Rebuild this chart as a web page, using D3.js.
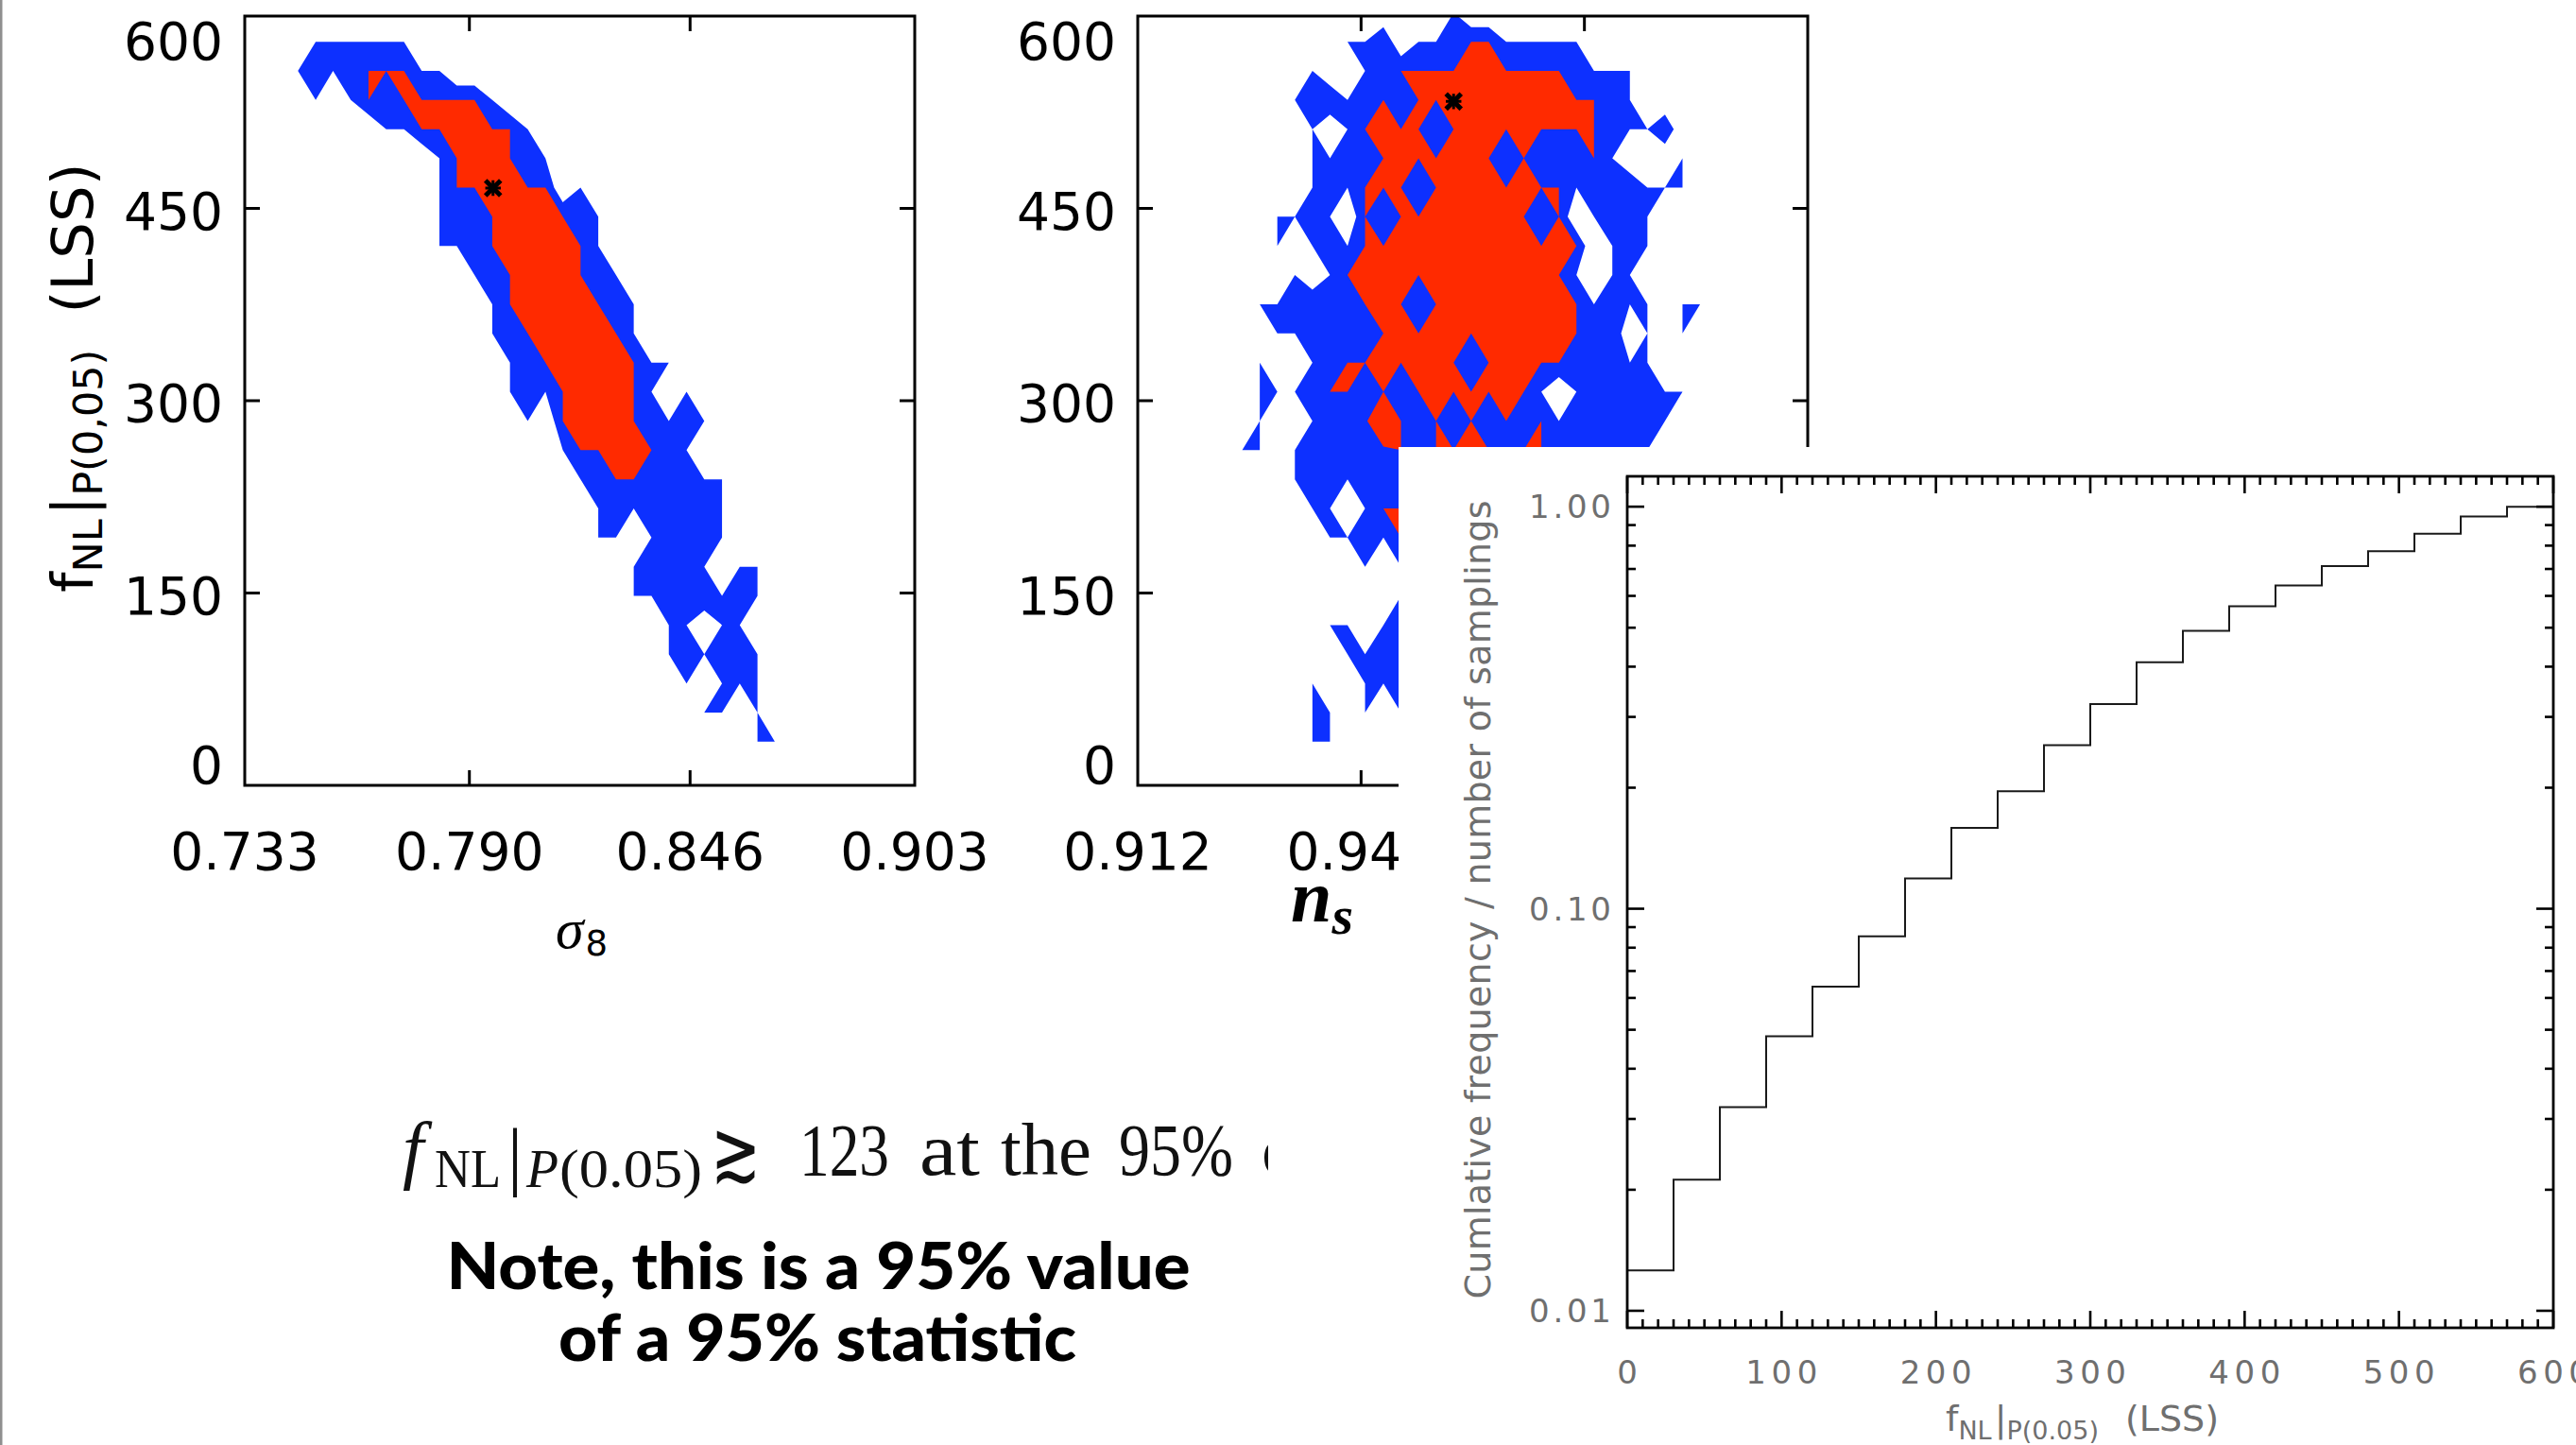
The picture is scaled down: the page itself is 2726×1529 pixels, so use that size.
<!DOCTYPE html>
<html>
<head>
<meta charset="utf-8">
<script src="https://cdn.jsdelivr.net/npm/d3@7"></script>
<style>
html,body{margin:0;padding:0;background:#fff;}
svg{display:block;}
</style>
</head>
<body>
<svg id="chart" width="2726" height="1529" xmlns="http://www.w3.org/2000/svg"></svg>
<script>
// ================= DATA =================
const sigma8TickValues = [0.733, 0.790, 0.846, 0.903];
const nsTickValues = [0.912, 0.940, 0.968, 0.996];
const fnlTickValues = [0, 150, 300, 450, 600];

// grid node positions of the 2-D histograms
const sigma8Nodes = [0.7465,0.7510,0.7554,0.7599,0.7644,0.7689,0.7734,0.7779,0.7824,0.7868,0.7913,0.7958,0.8003,0.8048,
                     0.8093,0.8137,0.8182,0.8227,0.8272,0.8317,0.8362,0.8406,0.8451,0.8496,0.8541,0.8586,0.8631,0.8675];
const nsNodes = [0.9251,0.9273,0.9295,0.9317,0.9339,0.9361,0.9383,0.9405,0.9428,0.9450,0.9472,0.9494,0.9516,0.9538,
                 0.9560,0.9582,0.9604,0.9626,0.9648,0.9670,0.9692,0.9715,0.9737,0.9759,0.9781,0.9803,0.9825,0.9847];
const fnlNodes = [602.7,580.0,557.2,534.5,511.7,489.0,466.2,443.5,420.7,398.0,375.2,352.5,329.7,307.0,
                  284.2,261.5,238.7,216.0,193.3,170.5,147.8,125.0,102.3,79.5,56.8,34.0,11.3];

// confidence level per node: 0 = outside, 1 = inside 95%, >=2 = inside 68%
const sigma8Levels = [
"0000000000000000000000000000",
"0111111000000000000000000000",
"1111222110000000000000000000",
"0101212222210000000000000000",
"0000011222222100000000000000",
"0000000012222110000000000000",
"0000000012222220100000000000",
"0000000011122222110000000000",
"0000000011122222210000000000",
"0000000000112222211000000000",
"0000000000012222221100000000",
"0000000000011222222100000000",
"0000000000001122222211000000",
"0000000000001112222210100000",
"0000000000000102222211110000",
"0000000000000001222221100000",
"0000000000000000112211111000",
"0000000000000000011111111000",
"0000000000000000011011111000",
"0000000000000000000111110110",
"0000000000000000000111121110",
"0000000000000000000001101100",
"0000000000000000000001111110",
"0000000000000000000000101110",
"0000000000000000000000011010",
"0000000000000000000000000011",
"0000000000000000000000000000"];

const nsLevels = [
"0000000000001000000000000000",
"0000001120111221111100000000",
"0000100112222222222111100000",
"0001121121222222222221100000",
"0000101222212222222221112000",
"0000111122222221211121000100",
"0000111222122222222111211100",
"0011110212222222212011110000",
"0010111222222222222201110000",
"0001012222222222222101100000",
"0111211222122222222211110110",
"0011111122222222222212010100",
"0100112222222122222111110000",
"0111122121222222210111111100",
"0100111192121212121111111000",
"1101111112122221221111110000",
"0001111111111111111111110000",
"0000110122111111111111000000",
"0000011112111111111110000000",
"0000000101111111111110000000",
"0000000001111111111110000000",
"0000011011111111111100000000",
"0000001111111111111000000000",
"0000100111111111110000000000",
"0000110101111111100000000000",
"0000110001111100000000000000"];

const sigma8Best = [0.7960, 465.8];
const nsBest = [0.9516, 533.4];

const contourLevels = [1, 2];

// cumulative distribution (inset)
const cumBinEdges = [0,30,60,90,120,150,180,210,240,270,300,330,360,390,420,450,480,510,540,570,600];
const cumFraction = [0.0126,0.0212,0.0321,0.0482,0.0640,0.0854,0.119,0.159,0.196,0.255,
                     0.323,0.410,0.491,0.565,0.637,0.712,0.775,0.856,0.946,1.000];
const cumXTicks = [0,100,200,300,400,500,600];
const cumYTicks = [0.01, 0.10, 1.00];
const cumYTickLabels = ["0.01","0.10","1.00"];

// ================= DRAWING =================
const svg = d3.select('#chart');
const SANS = "'DejaVu Sans', 'Liberation Sans', sans-serif";
const SERIF = "'Liberation Serif', 'DejaVu Serif', serif";
const BOLD = "Lato, 'Open Sans', 'DejaVu Sans', sans-serif";
const BLUE = '#0d30ff', RED = '#ff2a00';
const contourColors = [BLUE, RED];

svg.append('rect').attr('width', 2726).attr('height', 1529).attr('fill', '#fff');
svg.append('rect').attr('x', 0).attr('y', 0).attr('width', 2.5).attr('height', 1529).attr('fill', '#8f8f8f');

// calibrate the d3.contours coordinate convention (node index -> contour coordinate)
const calib = d3.contours().size([3, 3]).thresholds([0.5])([0,0,0,0,1,0,0,0,0]);
const calibOff = d3.min(calib[0].coordinates[0][0], p => p[0]) - 0.5;

const defs = svg.append('defs');

function contourPanel(cfg) {
  const {xScale, yScale, levels, xNodes, yNodes, best, xTicks, id} = cfg;
  const [L, R] = xScale.range();
  const B = yScale.range()[0], T = yScale.range()[1];
  defs.append('clipPath').attr('id', id).append('rect')
    .attr('x', L).attr('y', T).attr('width', R - L).attr('height', B - T);

  const nr = levels.length, nc = levels[0].length;
  const pw = nc + 2, ph = nr + 2;
  const vals = new Array(pw * ph).fill(0);
  levels.forEach((row, r) => { for (let c = 0; c < nc; c++) vals[(r + 1) * pw + c + 1] = +row[c]; });
  const idxX = d3.scaleLinear().domain(d3.range(nc)).range(xNodes);
  const idxY = d3.scaleLinear().domain(d3.range(nr)).range(yNodes.slice(0, nr));
  const proj = d3.geoTransform({
    point(px, py) { this.stream.point(xScale(idxX(px - calibOff - 1)), yScale(idxY(py - calibOff - 1))); }
  });
  const path = d3.geoPath(proj);
  const cs = d3.contours().size([pw, ph]).thresholds(contourLevels)(vals);

  const g = svg.append('g');
  g.append('g').attr('clip-path', `url(#${id})`)
    .selectAll('path').data(cs).join('path')
    .attr('d', path).attr('fill', (d, i) => contourColors[i]);

  // best-fit star (asterisk)
  const sx = xScale(best[0]), sy = yScale(best[1]);
  g.append('path')
    .attr('d', d3.symbol(d3.symbolTimes, 170)())
    .attr('transform', `translate(${sx},${sy})`)
    .attr('fill', 'none').attr('stroke', '#000').attr('stroke-width', 5);
  g.append('path')
    .attr('d', d3.symbol(d3.symbolPlus, 90)())
    .attr('transform', `translate(${sx},${sy})`)
    .attr('fill', 'none').attr('stroke', '#000').attr('stroke-width', 3);

  // frame
  g.append('rect').attr('x', L).attr('y', T).attr('width', R - L).attr('height', B - T)
    .attr('fill', 'none').attr('stroke', '#000').attr('stroke-width', 3);

  const tl = 16;
  const tk = g.append('g').attr('stroke', '#000').attr('stroke-width', 3);
  xTicks.slice(1, -1).forEach(t => {
    const x = xScale(t);
    tk.append('line').attr('x1', x).attr('x2', x).attr('y1', B).attr('y2', B - tl);
    tk.append('line').attr('x1', x).attr('x2', x).attr('y1', T).attr('y2', T + tl);
  });
  fnlTickValues.slice(1, -1).forEach(v => {
    const y = yScale(v);
    tk.append('line').attr('x1', L).attr('x2', L + tl).attr('y1', y).attr('y2', y);
    tk.append('line').attr('x1', R).attr('x2', R - tl).attr('y1', y).attr('y2', y);
  });

  // tick labels
  xTicks.forEach(t => {
    g.append('text').attr('x', xScale(t)).attr('y', 920)
      .attr('text-anchor', 'middle').attr('font-family', SANS).attr('font-size', 55)
      .text(d3.format('.3f')(t));
  });
  fnlTickValues.forEach(v => {
    const y = yScale(v);
    const base = v === 600 ? T + 46 : (v === 0 ? B - 2 : y + 22);
    g.append('text').attr('x', L - 23).attr('y', base)
      .attr('text-anchor', 'end').attr('font-family', SANS).attr('font-size', 55)
      .text(v);
  });
  return g;
}

const xS8 = d3.scaleLinear().domain([0.733, 0.903]).range([259, 968]);
const yF = d3.scaleLinear().domain([0, 600]).range([831, 17]);
const xNs = d3.scaleLinear().domain([0.912, 0.996]).range([1204, 1913]);

contourPanel({xScale: xS8, yScale: yF, levels: sigma8Levels, xNodes: sigma8Nodes, yNodes: fnlNodes,
              best: sigma8Best, xTicks: sigma8TickValues, id: 'clipS8'});
contourPanel({xScale: xNs, yScale: yF, levels: nsLevels, xNodes: nsNodes, yNodes: fnlNodes,
              best: nsBest, xTicks: nsTickValues, id: 'clipNs'});

// y-axis title (left panel)
const yt = svg.append('text').attr('transform', 'translate(98,627) rotate(-90)')
  .attr('font-family', SANS).attr('font-size', 61).attr('fill', '#000');
yt.append('tspan').text('f');
yt.append('tspan').attr('font-size', 43).attr('dy', 10).text('NL');
yt.append('tspan').attr('dy', -10).attr('dx', 4).text('|');
yt.append('tspan').attr('font-size', 43).attr('dy', 10).text('P(0,05)');
yt.append('tspan').attr('dy', -10).attr('dx', 38).text('(LSS)');

// x-axis titles
const s8t = svg.append('text').attr('x', 588).attr('y', 1003).attr('fill', '#000');
s8t.append('tspan').attr('font-family', SERIF).attr('font-style', 'italic').attr('font-size', 60).text('σ');
s8t.append('tspan').attr('font-family', SANS).attr('font-size', 37).attr('dy', 8).attr('dx', 2).text('8');

const nst = svg.append('text').attr('x', 1366).attr('y', 975).attr('fill', '#000')
  .attr('font-family', SERIF).attr('font-style', 'italic').attr('font-weight', 'bold');
nst.append('tspan').attr('font-size', 78).text('n');
nst.append('tspan').attr('font-size', 58).attr('dy', 13).text('s');

// ---------- inset: cumulative frequency ----------
svg.append('rect').attr('x', 1480).attr('y', 473).attr('width', 2726 - 1480).attr('height', 1529 - 473).attr('fill', '#fff');

const xC = d3.scaleLinear().domain([0, 600]).range([1722, 2702]);
const yC = d3.scaleLog().domain([0.00907, 1.19]).range([1405, 504]);
const ins = svg.append('g');
const GRAY = '#6f6f6f';

const stepPts = cumFraction.map((v, i) => [cumBinEdges[i], v]);
stepPts.push([cumBinEdges[cumBinEdges.length - 1], cumFraction[cumFraction.length - 1]]);
ins.append('path')
  .attr('d', d3.line().x(d => xC(d[0])).y(d => yC(d[1])).curve(d3.curveStepAfter)(stepPts))
  .attr('fill', 'none').attr('stroke', '#1a1a1a').attr('stroke-width', 2);

const iL = 1722, iR = 2702, iT = 504, iB = 1405;
ins.append('rect').attr('x', iL).attr('y', iT).attr('width', iR - iL).attr('height', iB - iT)
  .attr('fill', 'none').attr('stroke', '#000').attr('stroke-width', 2.8);
const itk = ins.append('g').attr('stroke', '#000').attr('stroke-width', 2.6);
d3.range(0, 601, 10).forEach(v => {
  const major = cumXTicks.includes(v);
  const len = major ? 18 : 9, x = xC(v);
  itk.append('line').attr('x1', x).attr('x2', x).attr('y1', iB).attr('y2', iB - len);
  itk.append('line').attr('x1', x).attr('x2', x).attr('y1', iT).attr('y2', iT + len);
});
yC.ticks().forEach(v => {
  const major = cumYTicks.some(t => Math.abs(t - v) < 1e-9);
  const len = major ? 18 : 9, y = yC(v);
  itk.append('line').attr('x1', iL).attr('x2', iL + len).attr('y1', y).attr('y2', y);
  itk.append('line').attr('x1', iR).attr('x2', iR - len).attr('y1', y).attr('y2', y);
});
cumXTicks.forEach(v => {
  ins.append('text').attr('x', xC(v)).attr('y', 1464).attr('text-anchor', 'middle')
    .attr('font-family', SANS).attr('font-size', 34).attr('fill', GRAY)
    .attr('textLength', String(v).length > 1 ? 76 : null)
    .text(v);
});
cumYTicks.forEach((v, i) => {
  ins.append('text').attr('x', 1705).attr('y', yC(v) + 12).attr('text-anchor', 'end')
    .attr('font-family', SANS).attr('font-size', 34).attr('fill', GRAY)
    .attr('textLength', 87).text(cumYTickLabels[i]);
});
ins.append('text').attr('transform', 'translate(1577,952) rotate(-90)').attr('text-anchor', 'middle')
  .attr('font-family', SANS).attr('font-size', 38).attr('fill', GRAY).attr('textLength', 845)
  .text('Cumlative frequency / number of samplings');
const ixt = ins.append('text').attr('x', 2059).attr('y', 1514)
  .attr('font-family', SANS).attr('font-size', 38).attr('fill', GRAY);
ixt.append('tspan').text('f');
ixt.append('tspan').attr('font-size', 27).attr('dy', 9).text('NL');
ixt.append('tspan').attr('dy', -9).attr('dx', 3).text('|');
ixt.append('tspan').attr('font-size', 27).attr('dy', 9).text('P(0.05)');
ixt.append('tspan').attr('dy', -9).attr('dx', 28).text('(LSS)');

// ---------- bottom annotation ----------
defs.append('clipPath').attr('id', 'clipEq').append('rect').attr('x', 380).attr('y', 1150).attr('width', 962).attr('height', 150);
const eq = svg.append('g').attr('clip-path', 'url(#clipEq)').attr('fill', '#111');
function eqText(str, x, y, size, opts = {}) {
  const t = eq.append('text').attr('x', x).attr('y', y).attr('font-family', opts.family || SERIF)
    .attr('font-size', size).text(str);
  if (opts.italic) t.attr('font-style', 'italic');
  if (opts.len) t.attr('textLength', opts.len).attr('lengthAdjust', 'spacingAndGlyphs');
  return t;
}
eqText('f', 426, 1243, 80, {italic: true});
eqText('NL', 460, 1256, 56, {len: 70});
eqText('|', 537, 1250, 80);
eqText('P', 557, 1256, 56, {italic: true, len: 34});
eqText('(0.05)', 592, 1256, 56, {len: 151});
eqText('≳', 752, 1250, 92, {len: 53, family: "'DejaVu Serif', " + SERIF});
eqText('123', 846, 1243, 78, {len: 95});
eqText('at', 973, 1243, 78, {len: 64});
eqText('the', 1059, 1243, 78, {len: 96});
eqText('95%', 1184, 1243, 78, {len: 121});
eqText('confidence', 1335, 1243, 78, {len: 340});

svg.append('text').attr('x', 866).attr('y', 1364).attr('text-anchor', 'middle')
  .attr('font-family', BOLD).attr('font-weight', 900).attr('font-size', 68)
  .attr('textLength', 787).attr('lengthAdjust', 'spacingAndGlyphs')
  .text('Note, this is a 95% value');
svg.append('text').attr('x', 865).attr('y', 1440).attr('text-anchor', 'middle')
  .attr('font-family', BOLD).attr('font-weight', 900).attr('font-size', 68)
  .attr('textLength', 548).attr('lengthAdjust', 'spacingAndGlyphs')
  .text('of a 95% statistic');
</script>
</body>
</html>
